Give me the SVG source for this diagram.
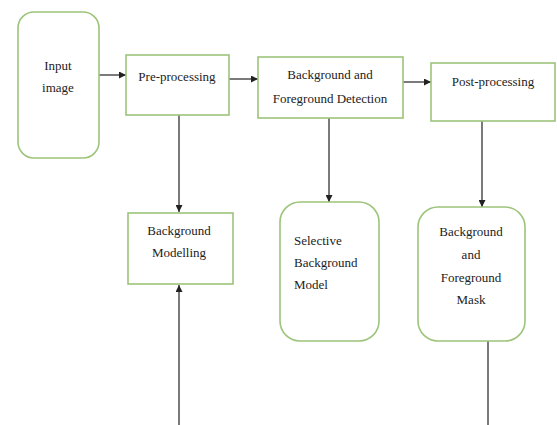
<svg xmlns="http://www.w3.org/2000/svg" width="557" height="425" viewBox="0 0 557 425">
<style>
.box{fill:#fff;stroke:#9cc47a;stroke-width:1.6}
.t{font-family:'Liberation Serif','Times New Roman','DejaVu Serif',serif;font-size:13px;fill:#222}
.c{text-anchor:middle}
.ln{stroke:#222;stroke-width:1.2;fill:none}
</style>
<defs>
<marker id="ah" viewBox="0 0 10 10" refX="10" refY="5" markerWidth="7" markerHeight="7" markerUnits="userSpaceOnUse" orient="auto">
<path d="M0,0 L10,5 L0,10 z" fill="#222"/>
</marker>
</defs>
<rect width="557" height="425" fill="#fff"/>
<g id="connectors">
<line class="ln" x1="99" y1="75" x2="126" y2="75" marker-end="url(#ah)"/>
<line class="ln" x1="229" y1="79" x2="258" y2="79" marker-end="url(#ah)"/>
<line class="ln" x1="403" y1="82" x2="431" y2="82" marker-end="url(#ah)"/>
<line class="ln" x1="179" y1="115" x2="179" y2="212" marker-end="url(#ah)"/>
<line class="ln" x1="329" y1="118" x2="329" y2="202" marker-end="url(#ah)"/>
<line class="ln" x1="482" y1="121" x2="482" y2="207" marker-end="url(#ah)"/>
<line class="ln" x1="488" y1="341" x2="488" y2="425"/>
<line class="ln" x1="179" y1="425" x2="179" y2="285" marker-end="url(#ah)"/>
</g>
<g id="input">
<rect class="box" x="18" y="12" width="81" height="146" rx="16"/>
<text class="t c" x="58" y="70" font-family="Liberation Serif">Input</text>
<text class="t c" x="58" y="92">image</text>
</g>
<g id="preprocessing">
<rect class="box" x="126" y="55" width="103" height="60"/>
<text class="t c" x="177" y="81">Pre-processing</text>
</g>
<g id="detection">
<rect class="box" x="258" y="57" width="145" height="61"/>
<text class="t c" x="330" y="79">Background and</text>
<text class="t c" x="330" y="103">Foreground Detection</text>
</g>
<g id="postprocessing">
<rect class="box" x="431" y="63" width="124" height="58"/>
<text class="t c" x="493" y="86">Post-processing</text>
</g>
<g id="modelling">
<rect class="box" x="128" y="213" width="105" height="71"/>
<text class="t c" x="179" y="235">Background</text>
<text class="t c" x="179" y="257">Modelling</text>
</g>
<g id="selective">
<rect class="box" x="280" y="202" width="99" height="139" rx="20"/>
<text class="t" x="294" y="245">Selective</text>
<text class="t" x="294" y="267">Background</text>
<text class="t" x="294" y="289">Model</text>
</g>
<g id="mask">
<rect class="box" x="418" y="207" width="107" height="134" rx="20"/>
<text class="t c" x="471" y="236">Background</text>
<text class="t c" x="471" y="259">and</text>
<text class="t c" x="471" y="282">Foreground</text>
<text class="t c" x="471" y="304">Mask</text>
</g>
</svg>
